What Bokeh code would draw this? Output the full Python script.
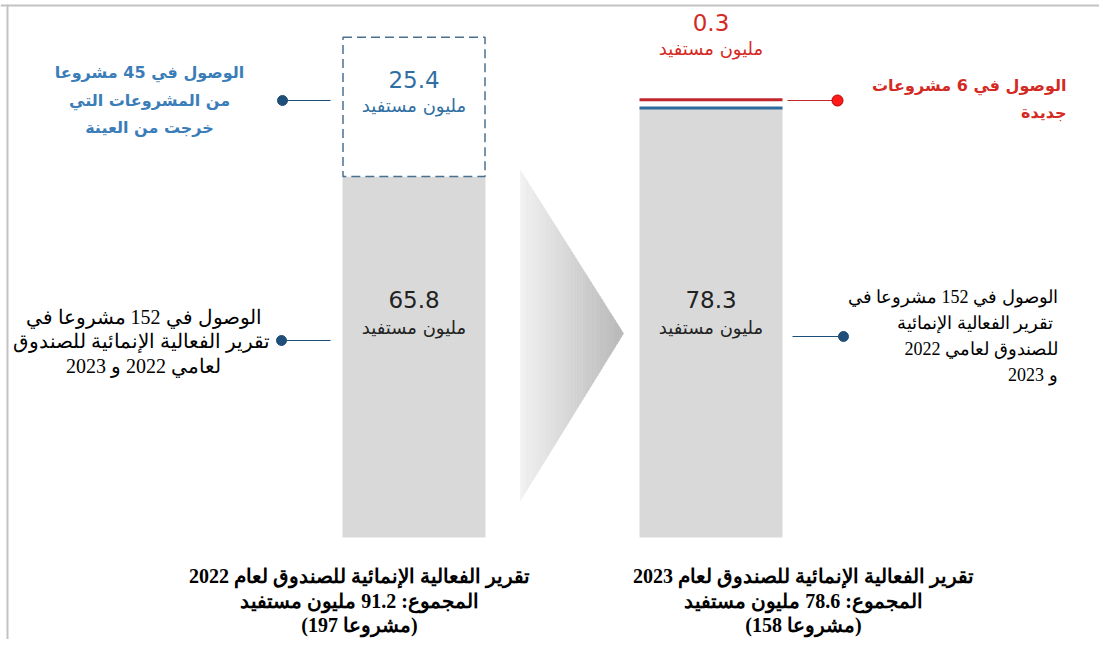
from bokeh.plotting import figure
from bokeh.models import Range1d
from bokeh.core.properties import value
from bokeh.embed import file_html
from bokeh.resources import INLINE

# ---------------- data (millions of beneficiaries) ----------------
years = ["2022", "2023"]
common_projects = [65.8, 78.3]          # 152 projects in both reports
exited_projects = 25.4                  # 45 projects that left the sample (2022 only)
new_projects = 0.3                      # 6 new projects (2023 only)
totals = [91.2, 78.6]
project_counts = [197, 158]

value_labels_common = ["65.8", "78.3"]
value_label_exited = "25.4"
value_label_new = "0.3"
unit_label = "مليون مستفيد"

note_exited = ["الوصول في 45 مشروعا", "من المشروعات التي", "خرجت من العينة"]
note_common_left = ["الوصول في 152 مشروعا في", "تقرير  الفعالية الإنمائية للصندوق", "لعامي 2022 و 2023"]
note_common_right = ["الوصول في 152 مشروعا في", "تقرير  الفعالية الإنمائية", "للصندوق لعامي 2022", "و 2023"]
note_new = ["الوصول في 6 مشروعات", "جديدة"]

titles = [
    ["تقرير الفعالية الإنمائية للصندوق لعام 2022", "المجموع: 91.2 مليون مستفيد", "(197 مشروعا)"],
    ["تقرير الفعالية الإنمائية للصندوق لعام 2023", "المجموع: 78.6 مليون مستفيد", "(158 مشروعا)"],
]

# ---------------- layout ----------------
W, H = 1099, 639
ZERO_PY = 537.0
S = 5.485  # pixels per million


def v(py):
    """pixel row -> data value"""
    return (ZERO_PY - py) / S


p = figure(width=W, height=H, output_backend="svg", toolbar_location=None,
           x_range=Range1d(0, W), y_range=Range1d(v(H), v(0)),
           min_border=0, outline_line_color=None, background_fill_color="white",
           border_fill_color="white")
p.axis.visible = False
p.grid.visible = False

# frame lines
p.segment(x0=[0, 7], x1=[W, 7], y0=[v(5), v(4)], y1=[v(5), v(H)],
          line_color="#c3c3c3", line_width=2)

bar_x = [413.5, 710.5]
bar_w = 143

# gradient arrow
N = 48
ax0, ax1, ty0, by0, tipy = 520.0, 623.0, 170.0, 500.0, 333.0
xs, ys, cols = [], [], []
for i in range(N):
    xa = ax0 + (ax1 - ax0) * i / N
    xb = ax0 + (ax1 - ax0) * (i + 1) / N
    ta = ty0 + (xa - ax0) * (tipy - ty0) / (ax1 - ax0)
    tb = ty0 + (xb - ax0) * (tipy - ty0) / (ax1 - ax0)
    ba = by0 - (xa - ax0) * (by0 - tipy) / (ax1 - ax0)
    bb = by0 - (xb - ax0) * (by0 - tipy) / (ax1 - ax0)
    xs.append([xa, xb, xb, xa])
    ys.append([v(ta), v(tb), v(bb), v(ba)])
    t = (i + 0.5) / N
    c = int(242 - t * 58)
    cols.append("#%02x%02x%02x" % (c, c, c))
p.patches(xs=xs, ys=ys, fill_color=cols, line_color=cols, line_width=0.6)

# bars
p.vbar(x=bar_x, width=bar_w, bottom=0, top=common_projects,
       fill_color="#d9d9d9", line_color=None)
p.quad(left=bar_x[0] - bar_w / 2 + 0.5, right=bar_x[0] + bar_w / 2 - 0.5,
       bottom=common_projects[0], top=common_projects[0] + exited_projects,
       fill_color="white", line_color="#4a7090", line_dash="9 5", line_width=1.5)
p.segment(x0=bar_x[1] - bar_w / 2, x1=bar_x[1] + bar_w / 2,
          y0=common_projects[1], y1=common_projects[1],
          line_color="#2e6b9e", line_width=3)
red_y = totals[1] + 1.2
p.segment(x0=bar_x[1] - bar_w / 2, x1=bar_x[1] + bar_w / 2, y0=red_y, y1=red_y,
          line_color="#c0272d", line_width=3)

# connectors
p.segment(x0=[282, 281, 792], x1=[330, 330, 843], y0=[v(100), v(340), v(336)],
          y1=[v(100), v(340), v(336)], line_color="#1f4e79", line_width=1)
p.scatter(x=[282, 281, 843], y=[v(100), v(340), v(336)], size=10,
          fill_color="#1f4e79", line_color="#1f4e79")
p.segment(x0=787, x1=837, y0=v(100), y1=v(100), line_color="#c0272d", line_width=1)
p.scatter(x=[837], y=[v(100)], size=11, fill_color="#ff1a1a", line_color="#b00000")

BLUE = "#2f6fa3"
RED = "#d42a24"

# value labels
p.text(x=[bar_x[0]], y=[v(79)], text=[value_label_exited], text_color=BLUE,
       text_font=value("DejaVu Sans"), text_font_size="23px",
       text_align="center", text_baseline="middle")
p.text(x=[bar_x[0]], y=[v(105)], text=[unit_label], text_color=BLUE,
       text_font=value("DejaVu Sans"), text_font_size="18px",
       text_align="center", text_baseline="middle")
p.text(x=bar_x, y=[v(299), v(299)], text=value_labels_common, text_color="#222222",
       text_font=value("DejaVu Sans"), text_font_size="23px",
       text_align="center", text_baseline="middle")
p.text(x=bar_x, y=[v(327), v(327)], text=[unit_label, unit_label], text_color="#222222",
       text_font=value("DejaVu Sans"), text_font_size="18px",
       text_align="center", text_baseline="middle")
p.text(x=[bar_x[1]], y=[v(22)], text=[value_label_new], text_color=RED,
       text_font=value("DejaVu Sans"), text_font_size="23px",
       text_align="center", text_baseline="middle")
p.text(x=[bar_x[1]], y=[v(48)], text=[unit_label], text_color=RED,
       text_font=value("DejaVu Sans"), text_font_size="18px",
       text_align="center", text_baseline="middle")

# annotations
p.text(x=[149] * 3, y=[v(72), v(100), v(127)], text=note_exited, text_color="#3a7db8",
       text_font=value("DejaVu Sans"), text_font_size="16px", text_font_style="bold",
       text_align="center", text_baseline="middle")
p.text(x=[143] * 3, y=[v(316), v(340), v(365)], text=note_common_left, text_color="black",
       text_font=value("Liberation Serif"), text_font_size="20px",
       text_align="center", text_baseline="middle")
p.text(x=[1057] * 4, y=[v(296), v(322), v(348), v(374)], text=note_common_right,
       text_color="black", text_font=value("Liberation Serif"), text_font_size="18px",
       text_align="right", text_baseline="middle")
p.text(x=[1066] * 2, y=[v(85), v(112)], text=note_new, text_color=RED,
       text_font=value("DejaVu Sans"), text_font_size="16px", text_font_style="bold",
       text_align="right", text_baseline="middle")

# bottom titles
for cx, lines in zip([359, 803], titles):
    p.text(x=[cx] * 3, y=[v(575), v(600), v(624)], text=lines, text_color="black",
           text_font=value("Liberation Serif"), text_font_size="20px",
           text_font_style="bold", text_align="center", text_baseline="middle")

open("out.html", "w").write(file_html(p, INLINE))
